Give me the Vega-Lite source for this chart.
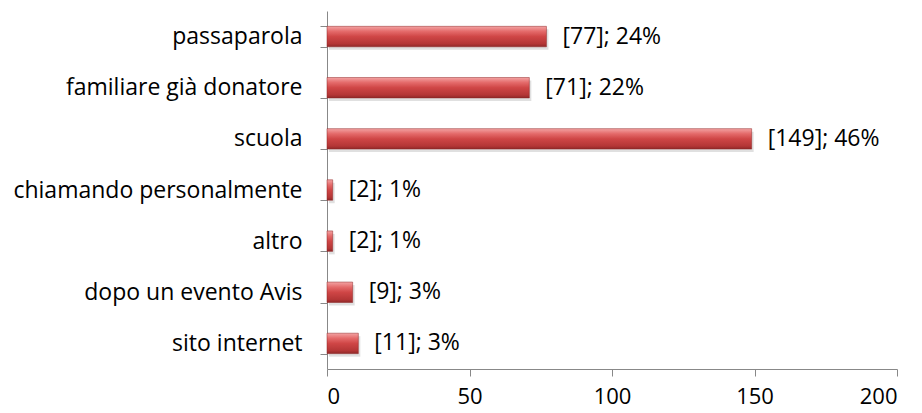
{
  "$schema": "https://vega.github.io/schema/vega-lite/v6.json",
  "autosize": {"type": "none"},
  "padding": {"left": 327, "top": 11, "right": 25, "bottom": 44},
  "width": 570,
  "height": 358,
  "background": "white",
  "data": {
    "values": [
      {"categoria": "passaparola", "valore": 77, "etichetta": "[77]; 24%"},
      {"categoria": "familiare già donatore", "valore": 71, "etichetta": "[71]; 22%"},
      {"categoria": "scuola", "valore": 149, "etichetta": "[149]; 46%"},
      {"categoria": "chiamando personalmente", "valore": 2, "etichetta": "[2]; 1%"},
      {"categoria": "altro", "valore": 2, "etichetta": "[2]; 1%"},
      {"categoria": "dopo un evento Avis", "valore": 9, "etichetta": "[9]; 3%"},
      {"categoria": "sito internet", "valore": 11, "etichetta": "[11]; 3%"}
    ]
  },
  "encoding": {
    "y": {
      "field": "categoria",
      "type": "nominal",
      "sort": null,
      "title": null,
      "scale": {"paddingInner": 0.6, "paddingOuter": 0.3},
      "axis": {
        "domainColor": "#888888",
        "tickColor": "#888888",
        "tickSize": 7,
        "tickBand": "extent",
        "labelPadding": 18,
        "labelFont": "Open Sans",
        "labelFontSize": 23,
        "labelColor": "#000000",
        "labelLimit": 400
      }
    },
    "x": {
      "field": "valore",
      "type": "quantitative",
      "title": null,
      "scale": {"domain": [0, 200], "nice": false},
      "axis": {
        "values": [0, 50, 100, 150, 200],
        "grid": false,
        "domainColor": "#888888",
        "tickColor": "#888888",
        "tickSize": 7,
        "labelPadding": 10,
        "labelFont": "Open Sans",
        "labelFontSize": 22,
        "labelColor": "#000000"
      }
    }
  },
  "layer": [
    {
      "mark": {
        "type": "bar",
        "fill": "#000000",
        "opacity": 0.12,
        "xOffset": 2,
        "yOffset": 3
      }
    },
    {
      "mark": {
        "type": "bar",
        "stroke": "#8f2727",
        "strokeWidth": 0.5,
        "fill": {
          "gradient": "linear",
          "x1": 0, "y1": 0, "x2": 0, "y2": 1,
          "stops": [
            {"offset": 0, "color": "#f3a3a3"},
            {"offset": 0.25, "color": "#e46a6a"},
            {"offset": 0.5, "color": "#cf4646"},
            {"offset": 0.85, "color": "#b43636"},
            {"offset": 1, "color": "#8f2828"}
          ]
        }
      }
    },
    {
      "mark": {
        "type": "text",
        "align": "left",
        "baseline": "middle",
        "dx": 16,
        "font": "Open Sans",
        "fontSize": 23,
        "color": "#000000"
      },
      "encoding": {"text": {"field": "etichetta"}}
    }
  ],
  "config": {"view": {"stroke": null}}
}
